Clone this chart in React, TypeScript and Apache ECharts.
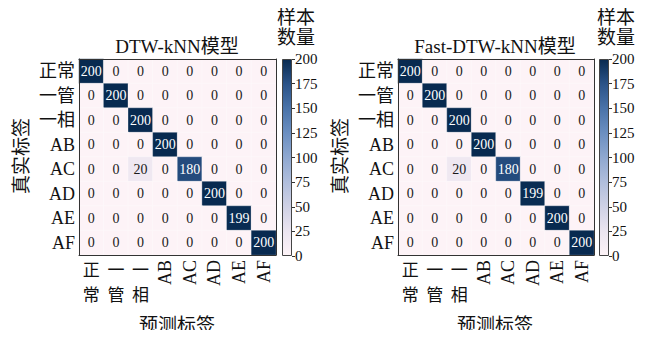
import React, { useEffect, useRef } from "react";
import * as echarts from "echarts";

// Class names, shared by the true (rows) and predicted (columns) axes
const categories = ["正常", "一管", "一相", "AB", "AC", "AD", "AE", "AF"];

// Confusion matrix of the DTW-kNN model (rows: true label, cols: predicted label)
const dtwMatrix = [
  [200, 0, 0, 0, 0, 0, 0, 0],
  [0, 200, 0, 0, 0, 0, 0, 0],
  [0, 0, 200, 0, 0, 0, 0, 0],
  [0, 0, 0, 200, 0, 0, 0, 0],
  [0, 0, 20, 0, 180, 0, 0, 0],
  [0, 0, 0, 0, 0, 200, 0, 0],
  [0, 0, 0, 0, 0, 0, 199, 0],
  [0, 0, 0, 0, 0, 0, 0, 200],
];

// Confusion matrix of the Fast-DTW-kNN model
const fastDtwMatrix = [
  [200, 0, 0, 0, 0, 0, 0, 0],
  [0, 200, 0, 0, 0, 0, 0, 0],
  [0, 0, 200, 0, 0, 0, 0, 0],
  [0, 0, 0, 200, 0, 0, 0, 0],
  [0, 0, 20, 0, 180, 0, 0, 0],
  [0, 0, 0, 0, 0, 199, 0, 0],
  [0, 0, 0, 0, 0, 0, 200, 0],
  [0, 0, 0, 0, 0, 0, 0, 200],
];

const panelTitles = ["DTW-kNN模型", "Fast-DTW-kNN模型"];
const colorbarTitle = "样本\n数量";
const yAxisName = "真实标签";
const xAxisName = "预测标签";
const scaleMin = 0;
const scaleMax = 200;
const scaleStep = 25;

// Pink-white to navy colour ramp
const rampColors = [
  "#fdf3f7",
  "#ebe5f0",
  "#cfd1e5",
  "#b0bedc",
  "#8fa8d0",
  "#6b8fc1",
  "#4a73a9",
  "#2b5388",
  "#082a50",
];

const FONT = "'Liberation Serif', 'Noto Sans CJK SC', serif";
const hasCJK = (s: string) => /[\u4e00-\u9fff]/.test(s);

function toCells(matrix: number[][]) {
  return matrix.flatMap((row, r) =>
    row.map((v, c) => ({
      value: [c, r, v],
      label: { color: v > 100 ? "#ffffff" : "#1a1a1a" },
    }))
  );
}

function buildOption() {
  const panels = [
    { left: 79, width: 197, cbLeft: 282, matrix: dtwMatrix, titleX: 177, nameX: 177, yNameX: 21, cbTitleX: 277 },
    { left: 398, width: 196, cbLeft: 599, matrix: fastDtwMatrix, titleX: 495, nameX: 495, yNameX: 340, cbTitleX: 597 },
  ];
  const top = 59;
  const height = 196;

  const grid: any[] = [];
  const xAxis: any[] = [];
  const yAxis: any[] = [];
  const series: any[] = [];
  const graphic: any[] = [];

  const gradientStops = rampColors.map((c, i) => ({ offset: i / (rampColors.length - 1), color: c }));

  panels.forEach((p, i) => {
    const g = i * 2; // heatmap grid
    const cg = g + 1; // colorbar grid
    grid.push({ left: p.left, top, width: p.width, height, containLabel: false });
    grid.push({ left: p.cbLeft, top, width: 10, height: height + 1, containLabel: false });

    const xBase = xAxis.length;
    // predicted labels: Chinese names stacked vertically
    xAxis.push({
      type: "category",
      gridIndex: g,
      data: categories,
      position: "bottom",
      z: 10,
      axisLine: { show: true, lineStyle: { color: "#333", width: 1 } },
      axisTick: { show: false },
      splitLine: { show: false },
      axisLabel: {
        interval: 0,
        margin: 3,
        fontFamily: FONT,
        fontSize: 17,
        lineHeight: 25,
        color: "#111",
        formatter: (v: string) => (hasCJK(v) ? v.split("").join("\n") : ""),
      },
    });
    // predicted labels: Latin names rotated
    xAxis.push({
      type: "category",
      gridIndex: g,
      data: categories,
      position: "bottom",
      axisLine: { show: false },
      axisTick: { show: false },
      axisLabel: {
        interval: 0,
        rotate: 90,
        margin: 5,
        fontFamily: FONT,
        fontSize: 18,
        color: "#111",
        formatter: (v: string) => (hasCJK(v) ? "" : v),
      },
    });
    // top frame line
    xAxis.push({
      type: "category",
      gridIndex: g,
      data: categories,
      position: "top",
      z: 10,
      axisLine: { show: true, lineStyle: { color: "#333", width: 1 } },
      axisTick: { show: false },
      axisLabel: { show: false },
    });
    // colorbar x axis
    xAxis.push({
      type: "category",
      gridIndex: cg,
      data: ["cb"],
      show: false,
    });

    const yBase = yAxis.length;
    yAxis.push({
      type: "category",
      gridIndex: g,
      data: categories,
      inverse: true,
      position: "left",
      z: 10,
      axisLine: { show: true, lineStyle: { color: "#333", width: 1 } },
      axisTick: { show: false },
      splitLine: { show: false },
      axisLabel: { interval: 0, margin: 4, fontFamily: FONT, fontSize: 18, color: "#111" },
    });
    // right frame line
    yAxis.push({
      type: "category",
      gridIndex: g,
      data: categories,
      inverse: true,
      position: "right",
      z: 10,
      axisLine: { show: true, lineStyle: { color: "#333", width: 1 } },
      axisTick: { show: false },
      axisLabel: { show: false },
    });
    // colorbar scale
    yAxis.push({
      type: "value",
      gridIndex: cg,
      min: scaleMin,
      max: scaleMax,
      interval: scaleStep,
      position: "right",
      z: 10,
      axisLine: { show: false },
      axisTick: { show: true, length: 3, lineStyle: { color: "#333" } },
      splitLine: { show: false },
      axisLabel: { margin: 3, fontFamily: FONT, fontSize: 15, color: "#111" },
    });

    series.push({
      type: "heatmap",
      xAxisIndex: xBase,
      yAxisIndex: yBase,
      data: toCells(p.matrix),
      itemStyle: { borderColor: "rgba(255,255,255,0.55)", borderWidth: 0.6 },
      label: { show: true, fontFamily: FONT, fontSize: 14 },
      emphasis: { disabled: true },
    });

    series.push({
      type: "bar",
      xAxisIndex: xBase + 3,
      yAxisIndex: yBase + 2,
      data: [scaleMax],
      barWidth: "100%",
      silent: true,
      itemStyle: {
        color: new echarts.graphic.LinearGradient(0, 1, 0, 0, gradientStops),
        borderColor: "#444",
        borderWidth: 1,
      },
    });

    graphic.push(
      {
        type: "text",
        x: p.titleX,
        y: 46,
        style: { text: panelTitles[i], font: `19px ${FONT}`, fill: "#111", textAlign: "center", textVerticalAlign: "middle" },
      },
      {
        type: "text",
        x: p.cbTitleX,
        y: 7,
        style: { text: colorbarTitle, font: `19px ${FONT}`, lineHeight: 20, fill: "#111", textAlign: "left", textVerticalAlign: "top" },
      },
      {
        type: "text",
        x: p.nameX,
        y: 325,
        style: { text: xAxisName, font: `19px ${FONT}`, fill: "#111", textAlign: "center", textVerticalAlign: "middle" },
      },
      {
        type: "text",
        x: p.yNameX,
        y: 156,
        rotation: Math.PI / 2,
        style: { text: yAxisName, font: `19px ${FONT}`, fill: "#111", textAlign: "center", textVerticalAlign: "middle" },
      }
    );
  });

  return {
    animation: false,
    backgroundColor: "#ffffff",
    grid,
    xAxis,
    yAxis,
    visualMap: [
      {
        show: false,
        type: "continuous",
        min: scaleMin,
        max: scaleMax,
        seriesIndex: [0, 2],
        inRange: { color: rampColors },
      },
    ],
    series,
    graphic,
  };
}

export default function App() {
  const ref = useRef<HTMLDivElement>(null);
  useEffect(() => {
    if (!ref.current) return;
    const chart = echarts.init(ref.current, undefined, { renderer: "svg" });
    chart.setOption(buildOption() as any);
    return () => chart.dispose();
  }, []);
  return <div ref={ref} style={{ width: 646, height: 338, margin: -8 }} />;
}
